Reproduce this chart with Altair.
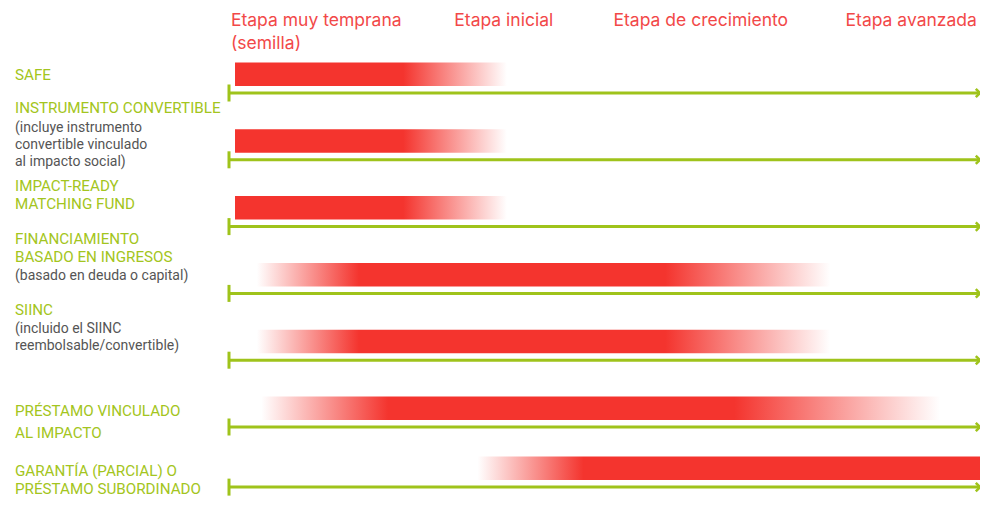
import altair as alt
import pandas as pd

# ---------------- data ----------------
rows = [
    "SAFE",
    "INSTRUMENTO CONVERTIBLE",
    "IMPACT-READY MATCHING FUND",
    "FINANCIAMIENTO BASADO EN INGRESOS",
    "SIINC",
    "PRÉSTAMO VINCULADO AL IMPACTO",
    "GARANTÍA (PARCIAL) O PRÉSTAMO SUBORDINADO",
]
row_pos = [0, 1, 2, 3, 4, 5, 5.9]
# positions along the stage axis (0 = start, 100 = end)
fade_in_start = [None, None, None, 3.7, 3.7, 4.3, 33.1]
solid_start = [0.8, 0.8, 0.8, 17.3, 17.3, 21.2, 47.2]
solid_end = [23.2, 23.2, 23.2, 58.1, 58.1, 67.3, 100.0]
fade_out_end = [37.0, 37.0, 37.0, 80.1, 80.1, 94.7, None]

stage_labels = ["Etapa muy temprana", "(semilla)", "Etapa inicial",
                "Etapa de crecimiento", "Etapa avanzada"]
stage_x = [0.26, 0.26, 30.0, 51.2, 82.1]

label_row = [0, 1, 1, 1, 1, 2, 2, 3, 3, 3, 4, 4, 4, 5, 5, 6, 6]
label_text = [
    "SAFE",
    "INSTRUMENTO CONVERTIBLE", "(incluye instrumento", "convertible vinculado", "al impacto social)",
    "IMPACT-READY", "MATCHING FUND",
    "FINANCIAMIENTO", "BASADO EN INGRESOS", "(basado en deuda o capital)",
    "SIINC", "(incluido el SIINC", "reembolsable/convertible)",
    "PRÉSTAMO VINCULADO", "AL IMPACTO",
    "GARANTÍA (PARCIAL) O", "PRÉSTAMO SUBORDINADO",
]
label_kind = ["t", "t", "s", "s", "s", "t", "t", "t", "t", "s", "t", "s", "s", "t", "t", "t", "t"]

# ---------------- layout (pixels) ----------------
UNIT = 66.8          # px per row step
TOP_PX = 85          # px from top of view to first arrow
W, H = 751, 490
LEFT = 221
label_dy = [-18, -52, -32, -15, 2, -40.5, -22.5, -54, -36, -17.5, -50, -31, -14, -16, 6, -16, 2]
stage_dy = [-72.4, -49.5, -72.4, -72.4, -72.4]

RED = "#f4342e"
GREEN = "#9fc31b"
GREEN_TXT = "#a3c520"
STAGE_RED = "#f24848"
GRAY = "#555555"

# ---------------- tables ----------------
rdf = pd.DataFrame({
    "row": rows, "pos": row_pos,
    "fin": fade_in_start, "s0": solid_start, "s1": solid_end, "fout": fade_out_end,
})
rdf["top"] = rdf["pos"] - 30.5 / UNIT
rdf["bot"] = rdf["pos"] - 7 / UNIT
rdf["start"] = rdf["fin"].fillna(rdf["s0"])
rdf["end"] = rdf["fout"].fillna(rdf["s1"])
rdf["a0"] = 0.0
rdf["a1"] = 100.0

ldf = pd.DataFrame({"row": label_row, "text": label_text, "kind": label_kind, "dy": label_dy})
ldf["y"] = [row_pos[r] + d / UNIT for r, d in zip(ldf["row"], ldf["dy"])]
tdf = ldf[ldf["kind"] == "t"]
sdf = ldf[ldf["kind"] == "s"]

stdf = pd.DataFrame({"text": stage_labels, "x": stage_x, "dy": stage_dy})
stdf["y"] = stdf["dy"] / UNIT

xs = alt.Scale(domain=[0, 100], nice=False, zero=False)
ys = alt.Scale(domain=[-TOP_PX / UNIT, (H - TOP_PX) / UNIT], reverse=True, nice=False, zero=False)

# one bar per row, its gradient stops built from the row's values
bars = []
for i, r in rdf.iterrows():
    span = r["end"] - r["start"]
    has_in = r["fin"] == r["fin"]
    has_out = r["fout"] == r["fout"]
    stops = [
        alt.GradientStop(color="#ffffff" if has_in else RED, offset=0),
        alt.GradientStop(color=RED, offset=float((r["s0"] - r["start"]) / span)),
        alt.GradientStop(color=RED, offset=float((r["s1"] - r["start"]) / span)),
        alt.GradientStop(color="#ffffff" if has_out else RED, offset=1),
    ]
    bars.append(
        alt.Chart(rdf.iloc[[i]]).mark_rect(
            color=alt.Gradient(gradient="linear", stops=stops, x1=0, x2=1, y1=0, y2=0)
        ).encode(
            x=alt.X("start:Q", scale=xs, axis=None), x2="end:Q",
            y=alt.Y("top:Q", scale=ys, axis=None), y2="bot:Q",
        )
    )

base = alt.Chart(rdf)

arrow_line = base.mark_rule(color=GREEN, strokeWidth=3).encode(
    x=alt.X("a0:Q", scale=xs, axis=None), x2="a1:Q",
    y=alt.Y("pos:Q", scale=ys, axis=None),
)

arrow_tick = base.mark_tick(color=GREEN, orient="vertical", thickness=3, size=17, opacity=1).encode(
    x=alt.X("a0:Q", scale=xs, axis=None),
    y=alt.Y("pos:Q", scale=ys, axis=None),
)

arrow_head = base.mark_point(
    shape="M-1,-1L0,0L-1,1", filled=False, stroke=GREEN, strokeWidth=2.5, size=70, opacity=1
).encode(
    x=alt.X("a1:Q", scale=xs, axis=None),
    y=alt.Y("pos:Q", scale=ys, axis=None),
)

titles = alt.Chart(tdf).mark_text(
    align="left", baseline="middle", font="Roboto", fontSize=15.2, color=GREEN_TXT
).encode(
    x=alt.value(-214),
    y=alt.Y("y:Q", scale=ys, axis=None),
    text="text:N",
)

subs = alt.Chart(sdf).mark_text(
    align="left", baseline="middle", font="Roboto", fontSize=14, color=GRAY
).encode(
    x=alt.value(-214),
    y=alt.Y("y:Q", scale=ys, axis=None),
    text="text:N",
)

stages = alt.Chart(stdf).mark_text(
    align="left", baseline="middle", font="Inter", fontSize=17.5, color=STAGE_RED
).encode(
    x=alt.X("x:Q", scale=xs, axis=None),
    y=alt.Y("y:Q", scale=ys, axis=None),
    text="text:N",
)

chart = alt.layer(
    *bars, arrow_line, arrow_tick, arrow_head, titles, subs, stages
).properties(
    width=W, height=H,
    padding={"left": LEFT, "top": 0, "right": 0, "bottom": 0},
    autosize=alt.AutoSizeParams(type="none"),
).configure_view(stroke=None)

chart.save("out.html", embed_options={"renderer": "svg", "actions": False})
